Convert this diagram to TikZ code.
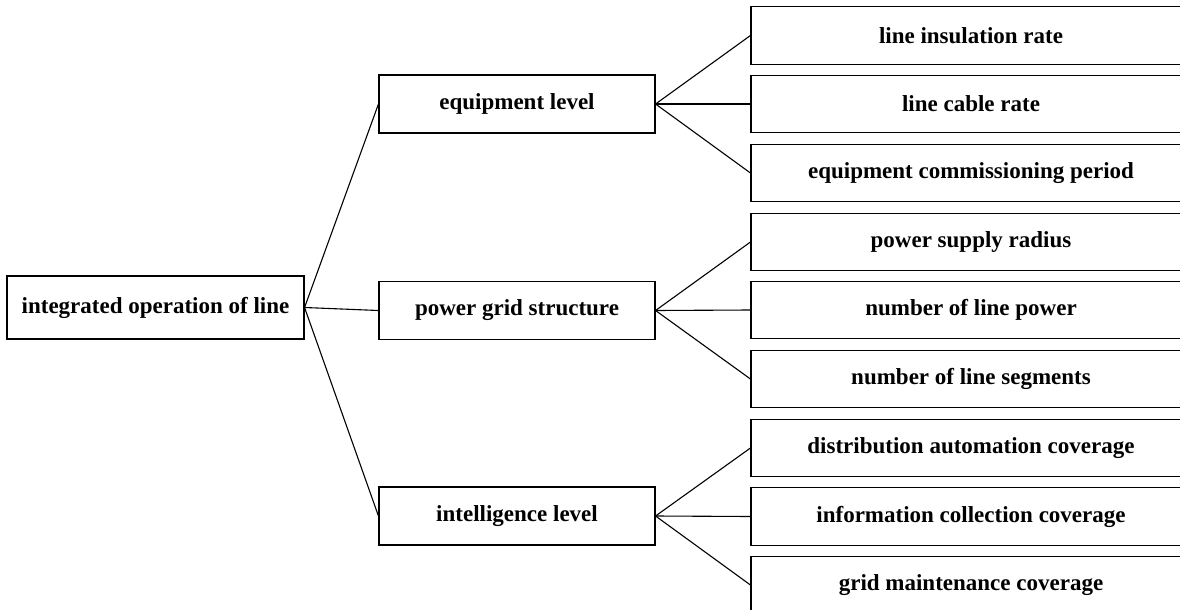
\documentclass[tikz,border=0pt]{standalone}
\usepackage{fontspec}
\setmainfont{Liberation Serif}
\usepackage{tikz}

\begin{document}
\begin{tikzpicture}[x=1pt,y=-1pt,every node/.style={draw,rectangle,line width=1.1pt,inner sep=0pt,font=\fontsize{23}{27}\selectfont\bfseries},
    rootbox/.style={minimum width=297pt,minimum height=63pt},
    midbox/.style={minimum width=276pt,minimum height=58pt},
    leafbox/.style={minimum width=440pt,minimum height=57.5pt}]

    \clip (0,0) rectangle (1180,610);
    \useasboundingbox (0,0) rectangle (1180,610);

    % Nodes
    \node[rootbox] (line) at (155.5,307.5) {integrated operation of line};

    \node[midbox] (equip) at (517,104) {equipment level};
    \node[midbox] (grid) at (517,310.5) {power grid structure};
    \node[midbox] (intel) at (517,516) {intelligence level};

    \node[leafbox] (ins) at (971,35.5) {line insulation rate};
    \node[leafbox] (cable) at (971,104) {line cable rate};
    \node[leafbox] (period) at (971,173) {equipment commissioning period};
    \node[leafbox] (radius) at (971,242) {power supply radius};
    \node[leafbox] (power) at (971,310) {number of line power};
    \node[leafbox] (segs) at (971,379) {number of line segments};
    \node[leafbox] (auto) at (971,448) {distribution automation coverage};
    \node[leafbox] (info) at (971,516.5) {information collection coverage};
    \node[leafbox] (maint) at (971,585) {grid maintenance coverage};

    % Edges
    \draw[line width=1.1pt] (line.east) -- (equip.west);
    \draw[line width=1.1pt] (line.east) -- (grid.west);
    \draw[line width=1.1pt] (line.east) -- (intel.west);

    \draw[line width=1.1pt] (equip.east) -- (ins.west);
    \draw[line width=1.1pt] (equip.east) -- (cable.west);
    \draw[line width=1.1pt] (equip.east) -- (period.west);

    \draw[line width=1.1pt] (grid.east) -- (radius.west);
    \draw[line width=1.1pt] (grid.east) -- (power.west);
    \draw[line width=1.1pt] (grid.east) -- (segs.west);

    \draw[line width=1.1pt] (intel.east) -- (auto.west);
    \draw[line width=1.1pt] (intel.east) -- (info.west);
    \draw[line width=1.1pt] (intel.east) -- (maint.west);

\end{tikzpicture}
\end{document}
